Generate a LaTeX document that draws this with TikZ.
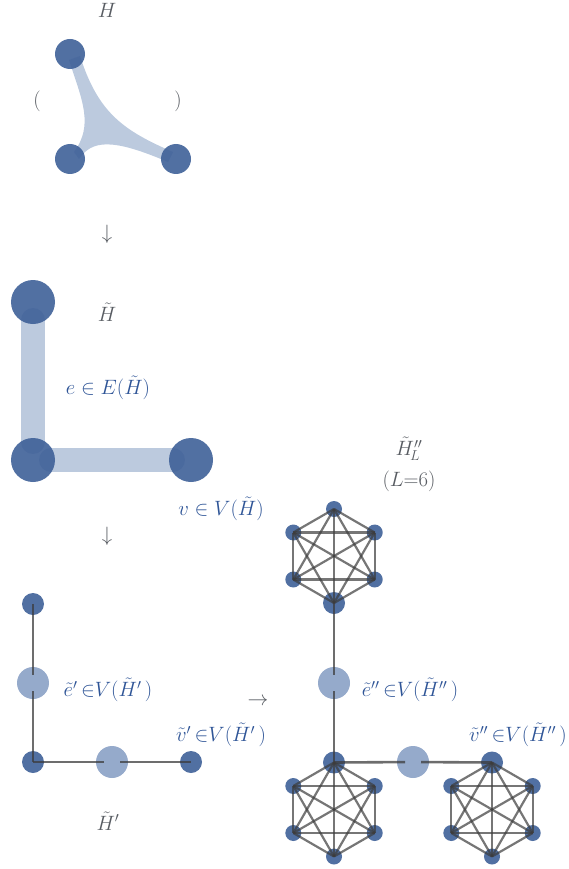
\documentclass[tikz,border=0pt]{standalone}
\usetikzlibrary{calc}
\definecolor{vblue}{RGB}{62,96,152}
\definecolor{lblue}{RGB}{143,165,200}
\definecolor{hblue}{RGB}{188,202,222}
\definecolor{tblue}{RGB}{47,85,151}
\definecolor{tgrey}{RGB}{88,92,98}
\definecolor{egrey}{RGB}{60,60,60}
\tikzset{
  vtx/.style={circle, fill=vblue, fill opacity=0.9, inner sep=0pt, minimum size=#1},
  vtx/.default=22pt,
  evtx/.style={circle, fill=lblue, fill opacity=0.95, inner sep=0pt, minimum size=32pt},
  hedge/.style={line width=24pt, line cap=round, draw=hblue},
  tedge/.style={line width=2.6pt, draw=egrey, draw opacity=0.75},
  kedge/.style={line width=2.2pt, draw=egrey, draw opacity=0.7},
  glab/.style={text=tgrey, inner sep=1pt},
  blab/.style={text=tblue, inner sep=1pt}
}
\begin{document}
\begin{tikzpicture}[x=1pt, y=-1pt, every node/.style={font=\fontsize{20}{23}\selectfont}]
  \useasboundingbox (0,0) rectangle (569,869);
  % hypergraph H
  \node[glab] (lH) at (107,10) {$H$};
  \node[glab] (lpl) at (37,101) {$($};
  \node[glab] (lpr) at (178,101) {$)$};
  \fill[hblue] (69,60) .. controls (82,100) and (94,125) .. (74,152)
    -- (79,159) .. controls (92,140) and (112,138) .. (168,162)
    -- (173,152) .. controls (122,130) and (98,112) .. (80,56) -- cycle;
  \node[vtx=30pt] (h1) at (70,54) {};
  \node[vtx=30pt] (h2) at (70,159) {};
  \node[vtx=30pt] (h3) at (176,159) {};
  \node[glab] (d1) at (107,234) {$\downarrow$};
  % graph H tilde
  \node[glab] (lHt) at (107,312) {$\tilde{H}$};
  \draw[hedge, shorten <=18pt, shorten >=18pt] (33,302) -- (33,460);
  \draw[hedge, shorten <=18pt, shorten >=18pt] (33,460) -- (191,460);
  \node[vtx=44pt] (g1) at (33,302) {};
  \node[vtx=44pt] (g2) at (33,460) {};
  \node[vtx=44pt] (g3) at (191,460) {};
  \node[blab] (le) at (108,388) {$e\in E(\tilde{H})$};
  \node[blab] (lv) at (221,509) {$v\in V(\tilde{H})$};
  \node[glab] (d2) at (107,536) {$\downarrow$};
  % graph H tilde prime
  \node[vtx] (p1) at (33,604) {};
  \node[vtx] (p2) at (33,762) {};
  \node[vtx] (p3) at (191,762) {};
  \node[evtx] (q1) at (33,683) {};
  \node[evtx] (q2) at (112,762) {};
  \draw[tedge, shorten >=8pt] (p1.center) -- (q1.center);
  \draw[tedge, shorten <=8pt] (q1.center) -- (p2.center);
  \draw[tedge, shorten >=8pt] (p2.center) -- (q2.center);
  \draw[tedge, shorten <=8pt] (q2.center) -- (p3.center);
  \node[blab] (lep) at (108,690) {$\tilde{e}'\,{\in}V(\tilde{H}'\,)$};
  \node[blab] (lvp) at (221,735) {$\tilde{v}'\,{\in}V(\tilde{H}'\,)$};
  \node[glab] (lHp) at (108,821) {$\tilde{H}'$};
  \node[glab] (r1) at (258,702) {$\rightarrow$};
  % graph H tilde double prime, L=6 cliques
  \node[glab] (lHpp) at (409,449) {$\tilde{H}''_{\!L}$};
  \node[glab] (lL) at (409,481) {$(L{=}6)$};
  \foreach \cl/\x/\y/\j in {A/334/556/90, B/334/809.5/270, C/492/809.5/270} {
    \foreach \p in {30,90,...,330} {
      \pgfmathtruncatemacro{\sz}{16+6*(\p==\j)}
      \node[vtx=\sz pt] (\cl\p) at ($(\x,\y)+(\p:47)$) {};
    }
    \foreach \p in {30,90,...,330} {
      \foreach \q in {30,90,...,330} {
        \ifnum\p<\q \draw[kedge] (\cl\p.center) -- (\cl\q.center); \fi
      }
    }
  }
  \node[evtx] (s1) at (334,683) {};
  \node[evtx] (s2) at (413,762) {};
  \draw[tedge, shorten >=8pt] (A90.center) -- (s1.center);
  \draw[tedge, shorten <=8pt] (s1.center) -- (B270.center);
  \draw[tedge, shorten >=8pt] (B270.center) -- (s2.center);
  \draw[tedge, shorten <=8pt] (s2.center) -- (C270.center);
  \node[blab] (lepp) at (410,690) {$\tilde{e}''\,{\in}V(\tilde{H}''\,)$};
  \node[blab] (lvpp) at (518,735) {$\tilde{v}''\,{\in}V(\tilde{H}''\,)$};
\end{tikzpicture}
\end{document}
